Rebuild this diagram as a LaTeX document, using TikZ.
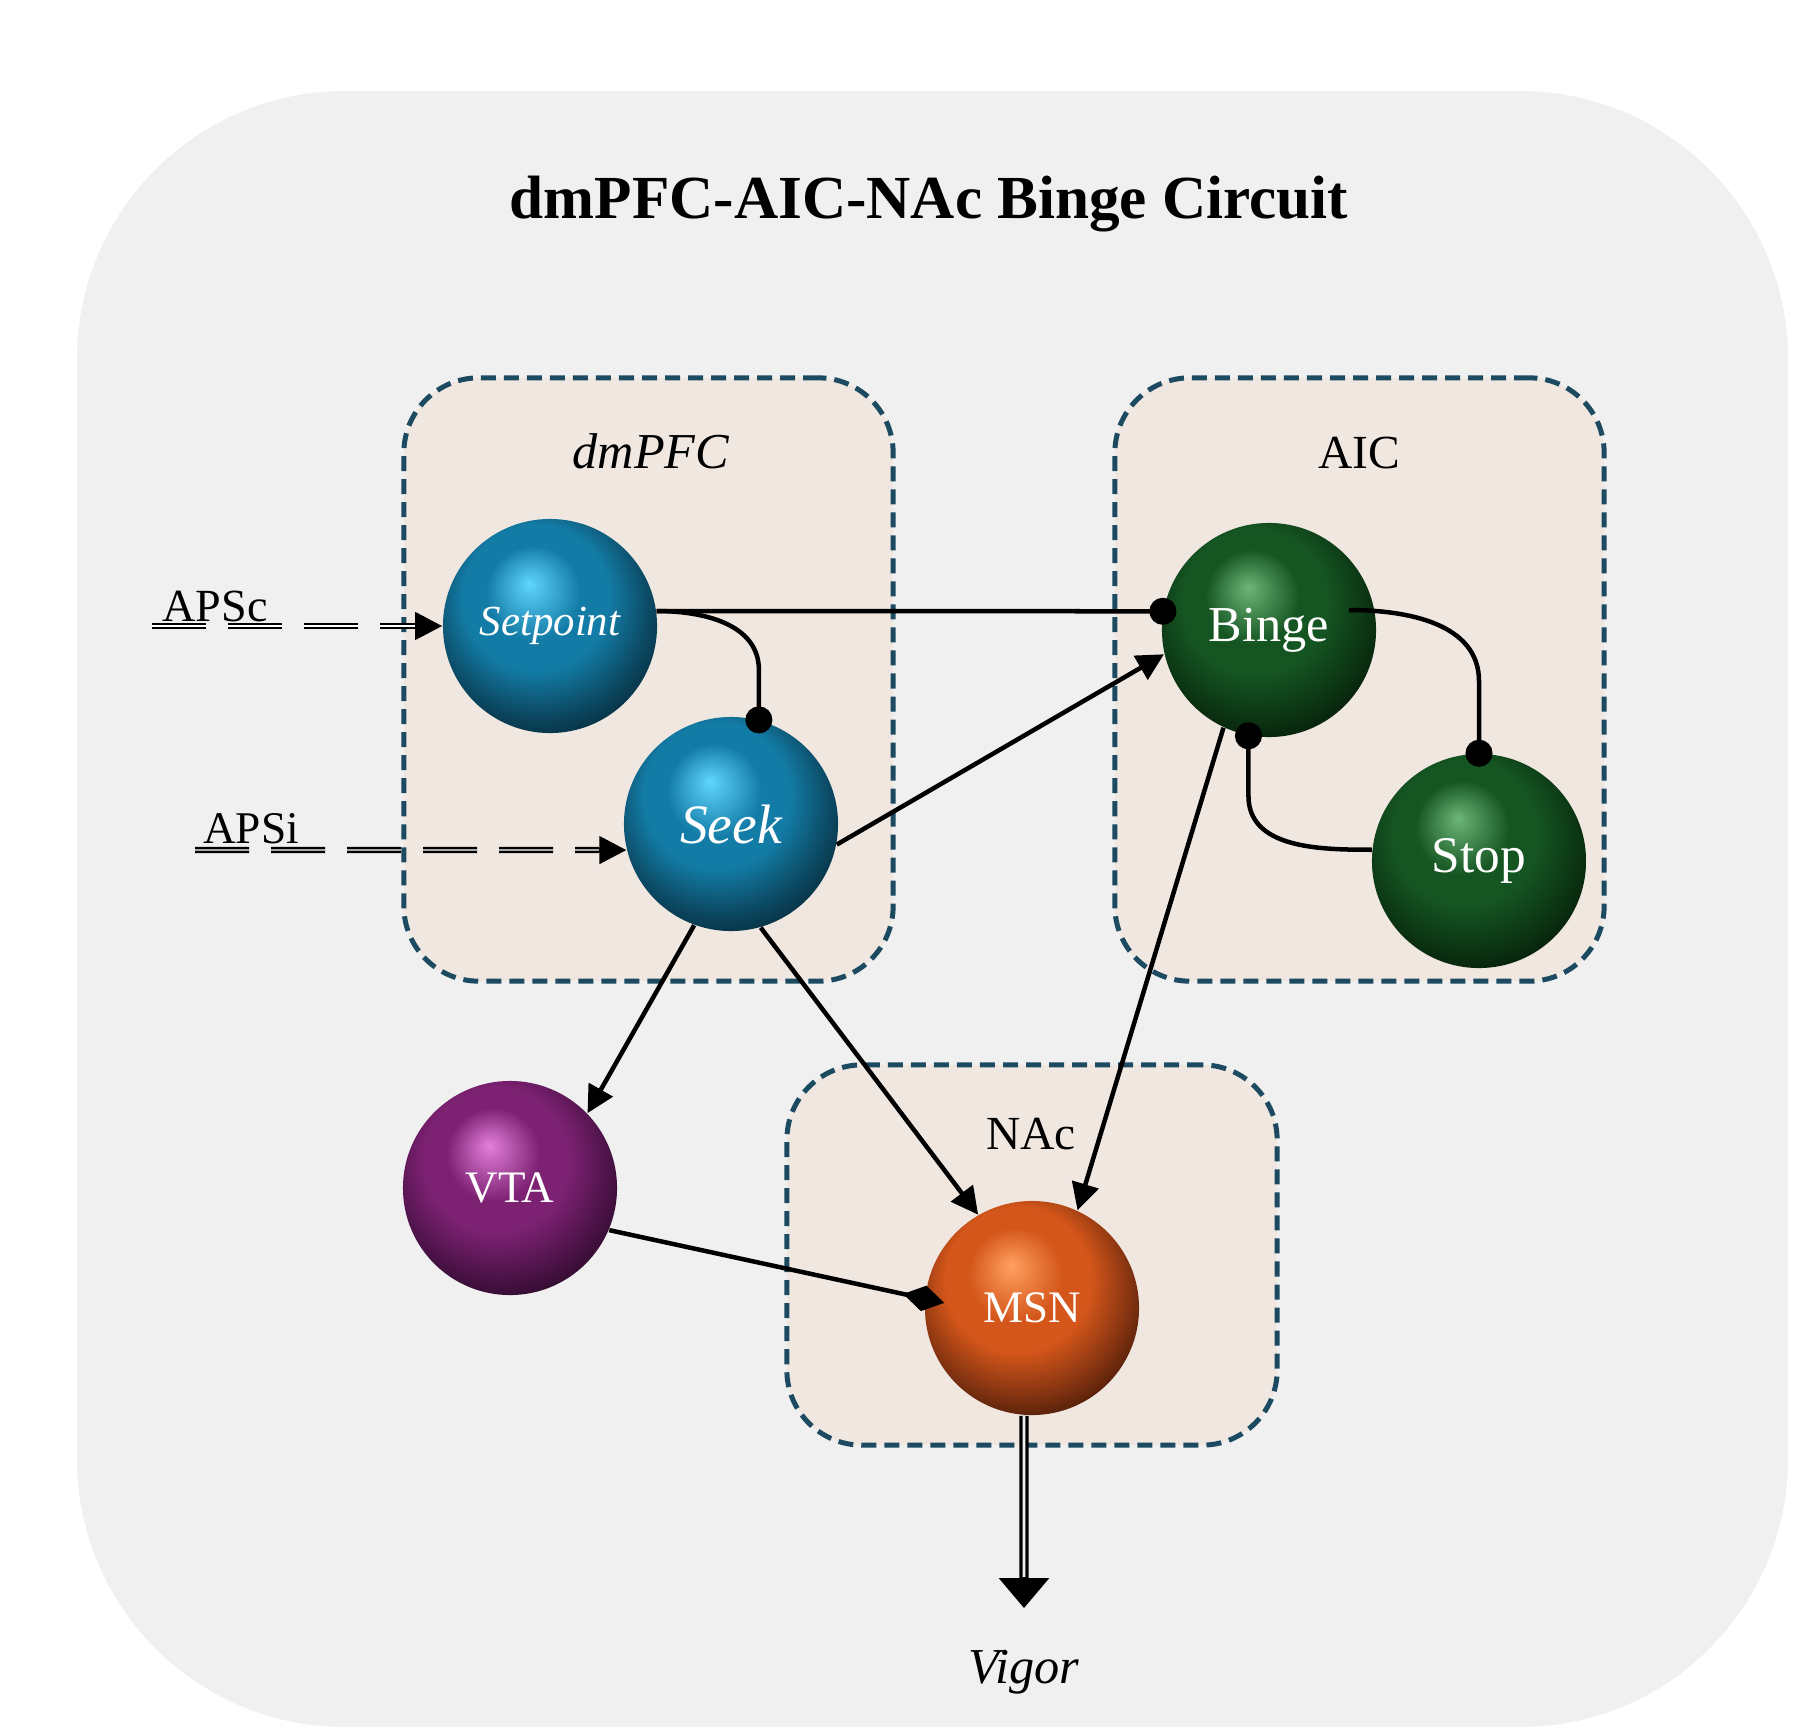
\documentclass[tikz,border=0pt]{standalone}
\usepackage{fontspec}
\setmainfont{Liberation Serif}
\usetikzlibrary{arrows.meta}
\definecolor{outerbg}{HTML}{F0F0F0}
\definecolor{groupbg}{HTML}{F1E7E1}
\definecolor{groupline}{HTML}{1B4A61}
\definecolor{blhi}{HTML}{5FD5FF}
\definecolor{blmid}{HTML}{137CA6}
\definecolor{bldk}{HTML}{0B4760}
\definecolor{blvd}{HTML}{031A24}
\definecolor{grhi}{HTML}{6DB577}
\definecolor{grmid}{HTML}{155522}
\definecolor{grdk}{HTML}{0B3312}
\definecolor{grvd}{HTML}{020C03}
\definecolor{puhi}{HTML}{E27FDA}
\definecolor{pumid}{HTML}{7D2173}
\definecolor{pudk}{HTML}{4A1246}
\definecolor{puvd}{HTML}{160414}
\definecolor{orhi}{HTML}{FFA060}
\definecolor{ormid}{HTML}{D4561A}
\definecolor{ordk}{HTML}{7E3110}
\definecolor{orvd}{HTML}{220B02}
\pgfdeclareradialshading{blueball}{\pgfpoint{-5bp}{10bp}}{color(0bp)=(blhi); color(11bp)=(blmid); color(17bp)=(blmid); color(26bp)=(bldk); color(35bp)=(blvd); color(50bp)=(blvd)}
\pgfdeclareradialshading{greenball}{\pgfpoint{-5bp}{10bp}}{color(0bp)=(grhi); color(11bp)=(grmid); color(17bp)=(grmid); color(26bp)=(grdk); color(35bp)=(grvd); color(50bp)=(grvd)}
\pgfdeclareradialshading{purpleball}{\pgfpoint{-5bp}{10bp}}{color(0bp)=(puhi); color(11bp)=(pumid); color(17bp)=(pumid); color(26bp)=(pudk); color(35bp)=(puvd); color(50bp)=(puvd)}
\pgfdeclareradialshading{orangeball}{\pgfpoint{-5bp}{10bp}}{color(0bp)=(orhi); color(11bp)=(ormid); color(17bp)=(ormid); color(26bp)=(ordk); color(35bp)=(orvd); color(50bp)=(orvd)}
\tikzset{
  sphere/.style={circle, minimum size=2.14cm, inner sep=0pt, text=white, shade},
  region/.style={draw=groupline, fill=groupbg, line width=0.05cm, dash pattern=on 0.15cm off 0.08cm, rounded corners=0.75cm},
  excite/.style={-{Triangle[length=0.27cm,width=0.27cm]}, line width=0.045cm},
  inhibit/.style={-{Circle[length=0.27cm]}, line width=0.045cm, shorten >=-0.135cm},
  modulate/.style={-{Diamond[length=0.42cm,width=0.26cm]}, line width=0.045cm, shorten >=-0.2cm},
  feed/.style={line width=0.025cm, double=white, double distance=0.012cm, dash pattern=on 0.54cm off 0.22cm},
  drive/.style={line width=0.033cm, double=outerbg, double distance=0.027cm}
}
\newcommand{\fs}[1]{\fontsize{#1}{#1}\selectfont}
\begin{document}
\begin{tikzpicture}[x=0.01cm,y=-0.01cm]
\fill[white] (0,0) rectangle (1797,1733);
\useasboundingbox (0,0) rectangle (1797,1733);
\fill[outerbg, rounded corners=2.68cm] (77,91) rectangle (1788,1727);
\node[anchor=base, font=\bfseries\fs{17.4}] (title) at (929,218) {dmPFC-AIC-NAc Binge Circuit};

\node[region, minimum width=4.89cm, minimum height=6.03cm] (pfc) at (648.5,679.5) {};
\node[region, minimum width=4.89cm, minimum height=6.03cm] (aic) at (1359.5,679.5) {};
\node[region, minimum width=4.9cm, minimum height=3.8cm] (nac) at (1032,1255) {};
\node[anchor=base, font=\itshape\fs{14.3}] (pfclbl) at (651,468) {dmPFC};
\node[anchor=base, font=\fs{13.5}] (aiclbl) at (1359,468) {AIC};
\node[anchor=base, font=\fs{13.5}] (naclbl) at (1031,1149) {NAc};

\node[sphere, shading=blueball, font=\itshape\fs{12.2}] (setp) at (550,626) {Setpoint};
\node[sphere, shading=blueball, font=\itshape\fs{15.8}] (seek) at (731,824) {Seek};
\node[sphere, shading=greenball, font=\fs{14.3}] (binge) at (1269,630) {Binge};
\node[sphere, shading=greenball, font=\fs{14.6}] (stop) at (1479,861) {Stop};
\node[sphere, shading=purpleball, font=\fs{12.8}] (vta) at (510,1188) {VTA};
\node[sphere, shading=orangeball, font=\fs{12.8}] (msn) at (1032,1308) {MSN};

\node[anchor=base, font=\fs{13.1}] (apsclbl) at (215,621) {APSc};
\node[anchor=base, font=\fs{12.9}] (apsilbl) at (251,843) {APSi};
\coordinate (apscin) at (152,626);
\coordinate (apsiin) at (195,850);
\draw[feed] (apscin) to ([xshift=-0.27cm]setp.west);
\draw[excite] ([xshift=-0.27cm]setp.west) to (setp.west);
\draw[feed] (apsiin) to ([xshift=-0.27cm]seek.194);
\draw[excite] ([xshift=-0.27cm]seek.194) to (seek.194);

\draw[inhibit] (setp.8) to (binge.170);
\draw[inhibit] (setp.8) to[out=0,in=90] ([yshift=0.5cm]seek.75) to (seek.75);
\draw[inhibit] ([shift={(-0.28cm,0.2cm)}]binge.east) to[out=0,in=90] ([yshift=0.72cm]stop.north) to (stop.north);
\draw[inhibit] (stop.174) to[out=180,in=-90] ([yshift=-0.6cm]binge.259) to (binge.259);
\draw[excite] (seek.-11) to (binge.193);
\draw[excite] (seek.-110) to (vta.44);
\draw[excite] (seek.-74) to (msn.120);
\draw[excite] (binge.-115) to (msn.65);
\draw[modulate] (vta.-23) to (msn.175);

\coordinate (vigstem) at (1024,1580);
\coordinate (vigtip) at (1024,1608);
\draw[drive] ([xshift=-0.08cm]msn.south) to (vigstem);
\draw[-{Triangle[length=0.3cm,width=0.5cm]}, line width=0.03cm] ([yshift=0.03cm]vigstem) to (vigtip);
\node[anchor=base, font=\itshape\fs{14.3}] (vigor) at (1024,1683) {Vigor};
\end{tikzpicture}
\end{document}
